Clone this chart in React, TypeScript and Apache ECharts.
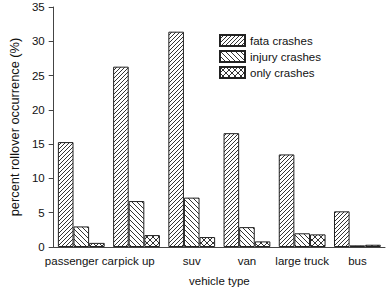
import React, { useEffect, useRef } from "react";
import * as echarts from "echarts";

const categories = ["passenger car", "pick up", "suv", "van", "large truck", "bus"];
const fataCrashes = [15.3, 26.3, 31.4, 16.6, 13.5, 5.2];
const injuryCrashes = [3.0, 6.7, 7.2, 2.9, 2.0, 0.24];
const onlyCrashes = [0.6, 1.74, 1.45, 0.82, 1.84, 0.33];
const seriesNames = ["fata crashes", "injury crashes", "only crashes"];

const FONT = "'Liberation Sans', Arial, sans-serif";

function makePattern(kind: "fwd" | "back" | "cross", size: number) {
  const c = document.createElement("canvas");
  c.width = size;
  c.height = size;
  const ctx = c.getContext("2d")!;
  ctx.fillStyle = "#fff";
  ctx.fillRect(0, 0, size, size);
  ctx.strokeStyle = "#333";
  ctx.lineWidth = 1;
  const s = size;
  const fwd = () => {
    ctx.beginPath();
    ctx.moveTo(-1, s + 1);
    ctx.lineTo(s + 1, -1);
    ctx.moveTo(-1, 1);
    ctx.lineTo(1, -1);
    ctx.moveTo(s - 1, s + 1);
    ctx.lineTo(s + 1, s - 1);
    ctx.stroke();
  };
  const back = () => {
    ctx.beginPath();
    ctx.moveTo(-1, -1);
    ctx.lineTo(s + 1, s + 1);
    ctx.moveTo(s - 1, -1);
    ctx.lineTo(s + 1, 1);
    ctx.moveTo(-1, s - 1);
    ctx.lineTo(1, s + 1);
    ctx.stroke();
  };
  if (kind === "fwd") fwd();
  if (kind === "back") back();
  if (kind === "cross") {
    fwd();
    back();
  }
  return { image: c, repeat: "repeat", imageWidth: size, imageHeight: size } as any;
}

export default function App() {
  const ref = useRef<HTMLDivElement>(null);
  useEffect(() => {
    if (!ref.current) return;
    const chart = echarts.init(ref.current, undefined, { renderer: "svg" });
    const patterns = [makePattern("fwd", 4), makePattern("back", 5), makePattern("cross", 6)];
    const dataSets = [fataCrashes, injuryCrashes, onlyCrashes];
    chart.setOption({
      animation: false,
      backgroundColor: "#fff",
      textStyle: { fontFamily: FONT },
      grid: { left: 43, right: 2, top: 7, bottom: 43, containLabel: false },
      legend: {
        orient: "vertical",
        left: 214,
        top: 29,
        itemWidth: 25,
        itemHeight: 11,
        itemGap: 3,
        icon: "rect",
        textStyle: { fontFamily: FONT, fontSize: 11.5, color: "#111" },
        data: seriesNames,
      },
      xAxis: {
        type: "category",
        data: categories,
        name: "vehicle type",
        nameLocation: "middle",
        nameGap: 28,
        nameTextStyle: { fontFamily: FONT, fontSize: 11.5, color: "#111" },
        axisLine: { lineStyle: { color: "#444", width: 1 } },
        axisTick: { alignWithLabel: true, length: 5, lineStyle: { color: "#444" } },
        axisLabel: { fontFamily: FONT, fontSize: 11.5, color: "#111", margin: 8, interval: 0 },
      },
      yAxis: {
        type: "value",
        min: 0,
        max: 35,
        interval: 5,
        name: "percent rollover occurrence (%)",
        nameLocation: "middle",
        nameGap: 26,
        nameTextStyle: { fontFamily: FONT, fontSize: 12.8, color: "#111" },
        axisLine: { show: true, lineStyle: { color: "#444", width: 1 } },
        axisTick: { show: true, length: 5, lineStyle: { color: "#444" } },
        axisLabel: { fontFamily: FONT, fontSize: 11.5, color: "#111", margin: 9 },
        splitLine: { show: false },
      },
      series: seriesNames.map((name, i) => ({
        name,
        type: "bar",
        data: dataSets[i],
        barWidth: 15.6,
        barGap: "0%",
        itemStyle: { color: patterns[i], borderColor: "#222", borderWidth: 1 },
      })),
    });
    return () => chart.dispose();
  }, []);
  return <div ref={ref} style={{ width: 387, height: 292, position: "absolute", left: 0, top: 0 }} />;
}
